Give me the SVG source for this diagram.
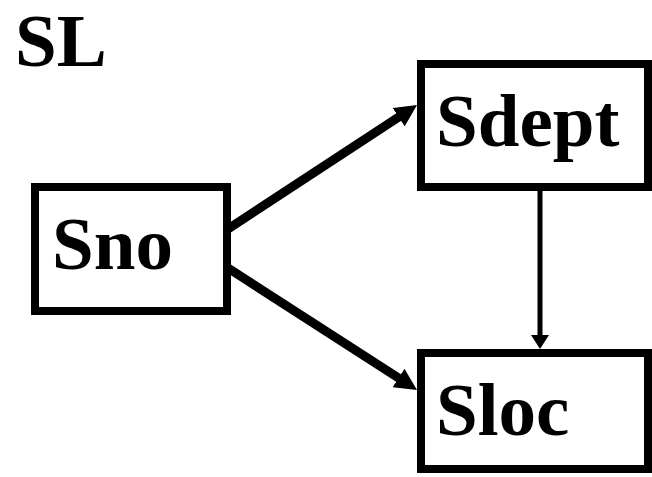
<svg xmlns="http://www.w3.org/2000/svg" width="652" height="477" viewBox="0 0 652 477">
  <style>
    .box { fill: #fff; stroke: #000; stroke-width: 8; }
    .lbl { font-family: "Liberation Serif", "Times New Roman", serif; font-weight: bold; font-size: 75px; fill: #000; }
    .edge { stroke: #000; fill: none; }
    .thick { stroke-width: 9; }
    .thin { stroke-width: 5; }
  </style>
  <defs>
    <marker id="headL" markerUnits="userSpaceOnUse" viewBox="0 0 22 22" markerWidth="22" markerHeight="22" refX="7" refY="11" orient="auto">
      <path d="M0,0 L22,11 L0,22 z" fill="#000"/>
    </marker>
    <marker id="headS" markerUnits="userSpaceOnUse" viewBox="0 0 14 18" markerWidth="14" markerHeight="18" refX="4" refY="9" orient="auto">
      <path d="M0,0 L14,9 L0,18 z" fill="#000"/>
    </marker>
  </defs>
  <rect width="652" height="477" fill="#fff"/>

  <text class="lbl" x="15" y="66">SL</text>

  <g id="connectors">
    <line class="edge thick" x1="228" y1="229" x2="404.5" y2="113.3" marker-end="url(#headL)"/>
    <line class="edge thick" x1="228" y1="268" x2="404.4" y2="381.8" marker-end="url(#headL)"/>
    <line class="edge thin" x1="540" y1="188" x2="540" y2="339" marker-end="url(#headS)"/>
  </g>

  <g id="node-sno">
    <rect class="box" x="35" y="187" width="192" height="124"/>
    <text class="lbl" x="52" y="269">Sno</text>
  </g>
  <g id="node-sdept">
    <rect class="box" x="421" y="64" width="227" height="123"/>
    <text class="lbl" x="436" y="146">Sdept</text>
  </g>
  <g id="node-sloc">
    <rect class="box" x="421" y="353" width="227" height="116"/>
    <text class="lbl" x="436" y="435">Sloc</text>
  </g>
</svg>
